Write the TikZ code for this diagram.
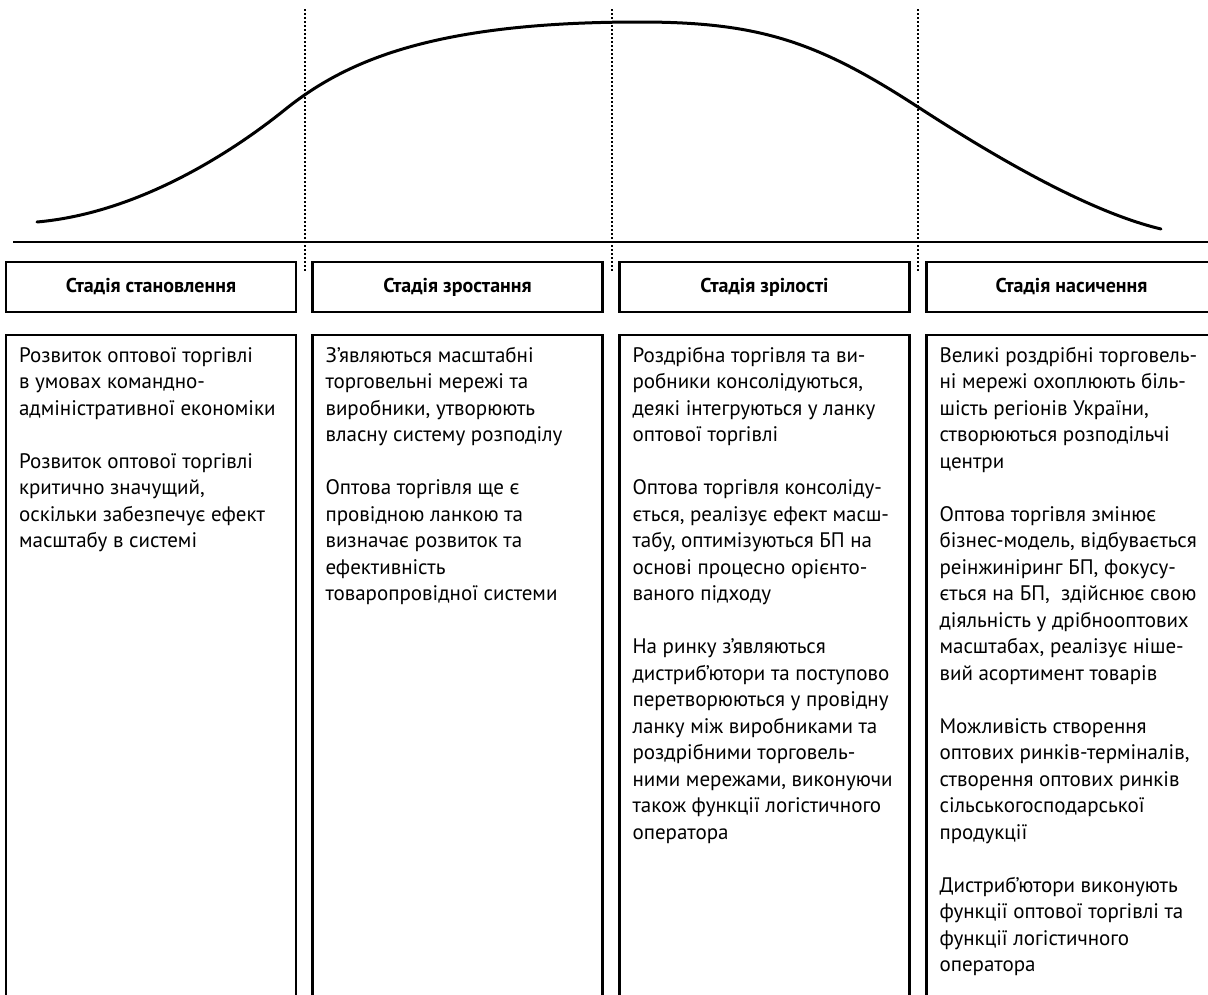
\documentclass[tikz,border=0pt]{standalone}
\usepackage{fontspec}
\setmainfont{PT Sans}
\begin{document}
\begin{tikzpicture}[x=1pt,y=-1pt,
  head/.style={draw, line width=2.3pt, minimum width=290pt, minimum height=50pt, inner sep=0pt, text height=14pt, text depth=4pt, font=\fontsize{20}{24}\selectfont\bfseries},
  frame/.style={draw, line width=2.3pt, minimum width=290pt, minimum height=720pt, inner sep=0pt, anchor=north},
  body/.style={anchor=north west, align=left, inner sep=0pt, font=\fontsize{21}{26.5}\selectfont},
  sep/.style={line width=1.5pt, dash pattern=on 2pt off 2pt},
  curve/.style={line width=3pt, line cap=round},
  axis/.style={line width=2pt}]
\useasboundingbox (0,0) rectangle (1208,994);
\fill[white] (0,0) rectangle (1208,994);

% life-cycle curve
\coordinate (c0) at (37,222);
\coordinate (c1) at (287,108);
\coordinate (c2) at (640,22);
\coordinate (c3) at (918,107);
\coordinate (c4) at (1161,229);
\draw[curve] (c0) .. controls (150,212) and (250,138) .. (c1)
             .. controls (350,58) and (440,22) .. (c2)
             .. controls (760,22) and (818,42) .. (c3)
             .. controls (998,159) and (1090,212) .. (c4);

% axis
\coordinate (axL) at (13,242);
\coordinate (axR) at (1208,242);
\draw[axis] (axL) -- (axR);

% stage separators
\coordinate (s1t) at (305,9);  \coordinate (s1b) at (305,272);
\coordinate (s2t) at (612,9);  \coordinate (s2b) at (612,272);
\coordinate (s3t) at (918,9);  \coordinate (s3b) at (918,272);
\draw[sep] (s1t) -- (s1b);
\draw[sep] (s2t) -- (s2b);
\draw[sep] (s3t) -- (s3b);

% headers
\node[head] (h1) at (151,287) {Стадія становлення};
\node[head] (h2) at (457.5,287) {Стадія зростання};
\node[head] (h3) at (764.5,287) {Стадія зрілості};
\node[head] (h4) at (1071.5,287) {Стадія насичення};

% content frames
\node[frame] (b1) at (151,334) {};
\node[frame] (b2) at (457.5,334) {};
\node[frame] (b3) at (764.5,334) {};
\node[frame] (b4) at (1071.5,334) {};

% content text
\node[body] (t1) at ([shift={(14,9.5)}]b1.north west) {\strut Розвиток оптової торгівлі\\
в умовах командно-\\
адміністративної економіки\\[26.5pt]
Розвиток оптової торгівлі\\
критично значущий,\\
оскільки забезпечує ефект\\
масштабу в системі};

\node[body] (t2) at ([shift={(14,9.5)}]b2.north west) {\strut З’являються масштабні\\
торговельні мережі та\\
виробники, утворюють\\
власну систему розподілу\\[26.5pt]
Оптова торгівля ще є\\
провідною ланкою та\\
визначає розвиток та\\
ефективність\\
товаропровідної системи};

\node[body] (t3) at ([shift={(14,9.5)}]b3.north west) {\strut Роздрібна торгівля та ви-\\
робники консолідуються,\\
деякі інтегруються у ланку\\
оптової торгівлі\\[26.5pt]
Оптова торгівля консоліду-\\
ється, реалізує ефект масш-\\
табу, оптимізуються БП на\\
основі процесно орієнто-\\
ваного підходу\\[26.5pt]
На ринку з’являються\\
дистриб’ютори та поступово\\
перетворюються у провідну\\
ланку між виробниками та\\
роздрібними торговель-\\
ними мережами, виконуючи\\
також функції логістичного\\
оператора};

\node[body] (t4) at ([shift={(14,9.5)}]b4.north west) {\strut Великі роздрібні торговель-\\
ні мережі охоплюють біль-\\
шість регіонів України,\\
створюються розподільчі\\
центри\\[26.5pt]
Оптова торгівля змінює\\
бізнес-модель, відбувається\\
реінжиніринг БП, фокусу-\\
ється на БП,~ здійснює свою\\
діяльність у дрібнооптових\\
масштабах, реалізує ніше-\\
вий асортимент товарів\\[26.5pt]
Можливість створення\\
оптових ринків-терміналів,\\
створення оптових ринків\\
сільськогосподарської\\
продукції\\[26.5pt]
Дистриб’ютори виконують\\
функції оптової торгівлі та\\
функції логістичного\\
оператора};
\end{tikzpicture}
\end{document}
